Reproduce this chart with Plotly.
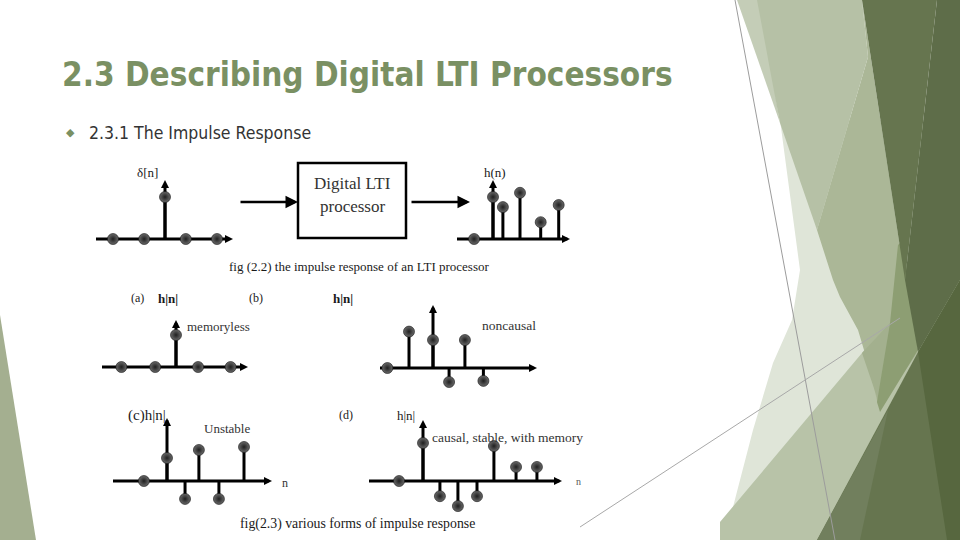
import plotly.graph_objects as go

W, H = 960, 540

# ---------------- data ----------------
# positions are in sample units along n, values in amplitude units
delta_n = [-2.0, -0.8, 0.0, 0.8, 2.0]
delta_v = [0, 0, 1, 0, 0]

hn_n = [-1.05, 0.0, 0.55, 1.5, 2.65, 3.65]
hn_v = [0, 1.0, 0.76, 1.1, 0.4, 0.81]

a_n = [-2.1, -0.8, 0.0, 0.85, 2.1]
a_v = [0, 0, 1, 0, 0]

b_n = [-1.9, -1.0, 0.0, 0.67, 1.33, 2.1]
b_v = [0, 1.3, 1.0, -0.5, 1.0, -0.46]

c_n = [-1.05, 0.0, 0.82, 1.45, 2.36, 3.5]
c_v = [0, 1.0, -0.78, 1.35, -0.78, 1.48]

d_n = [-1.33, 0.0, 0.94, 1.94, 3.0, 3.94, 5.17, 6.33]
d_v = [0, 1.0, -0.4, -0.66, -0.4, 0.92, 0.37, 0.37]

# panel geometry: origin px (ox, oy), px per unit (ux, uy),
# axis start/end px, vertical arrow top px
panels = [
    dict(n=delta_n, v=delta_v, ox=165, oy=239, ux=26, uy=42, x0=96, x1=233, top=180),
    dict(n=hn_n, v=hn_v, ox=493, oy=239, ux=18, uy=42, x0=457, x1=570, top=180),
    dict(n=a_n, v=a_v, ox=176, oy=367, ux=26, uy=32, x0=102, x1=248, top=320),
    dict(n=b_n, v=b_v, ox=433, oy=368, ux=24, uy=28, x0=380, x1=537, top=305),
    dict(n=c_n, v=c_v, ox=167, oy=481, ux=22, uy=23, x0=113, x1=272, top=418),
    dict(n=d_n, v=d_v, ox=423, oy=481, ux=18, uy=38, x0=369, x1=562, top=420),
]

fig = go.Figure()
layout = dict(
    width=W, height=H, margin=dict(l=0, r=0, t=0, b=0),
    paper_bgcolor="white", plot_bgcolor="rgba(0,0,0,0)",
    showlegend=False,
    xaxis=dict(domain=[0, 1], range=[0, W], visible=False, fixedrange=True),
    yaxis=dict(domain=[0, 1], range=[H, 0], visible=False, fixedrange=True),
)

# invisible trace to anchor the base (pixel) axes
fig.add_trace(go.Scatter(x=[0, W], y=[0, H], mode="markers",
                         marker=dict(opacity=0), hoverinfo="skip"))

dot = dict(size=11, color="#6a6a6a", gradient=dict(type="radial", color="#1f1f1f"),
           line=dict(width=0.6, color="#111111"))

for k, p in enumerate(panels, start=2):
    pad = 14
    left, right = p["x0"] - pad, p["x1"] + pad
    top, bottom = p["top"] - pad, p["oy"] + 40
    xr = [(left - p["ox"]) / p["ux"], (right - p["ox"]) / p["ux"]]
    yr = [(p["oy"] - bottom) / p["uy"], (p["oy"] - top) / p["uy"]]
    layout[f"xaxis{k}"] = dict(domain=[left / W, right / W], range=xr, visible=False,
                               anchor=f"y{k}", fixedrange=True)
    layout[f"yaxis{k}"] = dict(domain=[1 - bottom / H, 1 - top / H], range=yr, visible=False,
                               anchor=f"x{k}", fixedrange=True)
    xa, ya = f"x{k}", f"y{k}"
    xs = (p["x0"] - p["ox"]) / p["ux"]
    xe = (p["x1"] - p["ox"]) / p["ux"]
    yt = (p["oy"] - p["top"]) / p["uy"]
    # axes lines
    fig.add_trace(go.Scatter(x=[xs, xe - 0.15, None, 0, 0], y=[0, 0, None, 0, yt - 0.1],
                             mode="lines", line=dict(color="black", width=3),
                             xaxis=xa, yaxis=ya, hoverinfo="skip", cliponaxis=False))
    # arrowheads
    fig.add_trace(go.Scatter(x=[xe, 0], y=[0, yt], mode="markers",
                             marker=dict(symbol=["arrow-right", "arrow-up"], size=8, color="black"),
                             xaxis=xa, yaxis=ya, hoverinfo="skip", cliponaxis=False))
    # stems
    sx, sy = [], []
    for n, v in zip(p["n"], p["v"]):
        if v != 0:
            sx += [n, n, None]
            sy += [0, v, None]
    fig.add_trace(go.Scatter(x=sx, y=sy, mode="lines", line=dict(color="black", width=3),
                             xaxis=xa, yaxis=ya, hoverinfo="skip", cliponaxis=False))
    # dots
    fig.add_trace(go.Scatter(x=p["n"], y=p["v"], mode="markers", marker=dot,
                             xaxis=xa, yaxis=ya, hoverinfo="skip", cliponaxis=False))

# ---------------- background shapes (pixel coords) ----------------
shapes = []
def poly(path, color):
    shapes.append(dict(type="path", path=path, xref="x", yref="y", fillcolor=color,
                       line=dict(width=0), layer="below"))

poly("M0,315 L36,540 L0,540 Z", "#a4af90")
poly("M780,120 L800,270 L792,320 L773,363 L753,430 L733,507 L720,535 L720,540 "
     "L830,540 L960,300 L960,120 Z", "#dfe5d8")
poly("M737,0 L760,0 L780,123 Z", "#c4cdb7")
poly("M757,0 L862,0 L868,57 L817,230 L780,123 Z", "#b6c1a6")
poly("M720,522 L862,353 L905,300 L918,353 L817,540 L720,540 Z", "#b8c3a8")
poly("M862,0 L905,280 L918,352 L885,400 L878,405 L870,370 L858,330 L840,297 "
     "L833,280 L817,230 L868,57 Z", "#abb797")
poly("M862,353 L890,323 L878,400 Z", "#a3b08e")
poly("M898,245 L903,240 L918,350 L880,412 L877,402 L890,323 Z", "#8d9e73")
poly("M862,0 L937,0 L905,280 Z", "#66754f")
poly("M937,0 L960,0 L960,280 L918,352 L905,280 Z", "#5e6d49")
poly("M817,540 L918,352 L960,280 L960,540 Z", "#66754f")
poly("M817,540 L860,540 L888,410 Z", "#717f5d")
poly("M918,352 L960,280 L960,540 L947,540 Z", "#57673f")

shapes.append(dict(type="line", x0=735, y0=0, x1=835, y1=540, xref="x", yref="y",
                   line=dict(color="#9c9c9c", width=1), layer="below"))
shapes.append(dict(type="line", x0=580, y0=527, x1=900, y1=318, xref="x", yref="y",
                   line=dict(color="#a8a8a8", width=1), layer="below"))

# processor box
shapes.append(dict(type="rect", x0=298, y0=163, x1=406, y1=238, xref="x", yref="y",
                   line=dict(color="black", width=2.5), fillcolor="rgba(0,0,0,0)"))
layout["shapes"] = shapes

# ---------------- texts ----------------
ann = []
def txt(x, y, s, size=12, color="#1a1a1a", family="Liberation Serif, Times New Roman, serif",
        xanchor="left", bold=False):
    ann.append(dict(x=x, y=y, xref="x", yref="y", text=(f"<b>{s}</b>" if bold else s),
                    showarrow=False, xanchor=xanchor, yanchor="middle",
                    font=dict(size=size, color=color, family=family)))

title_font = "Liberation Sans Narrow, DejaVu Sans Condensed, Arial Narrow, sans-serif"
txt(60, 74, "2.3 Describing Digital LTI Processors", size=33, color="#7a9063",
    family=title_font, bold=True)
txt(64, 132, "◆", size=11, color="#7a9063", family="DejaVu Sans")
txt(87, 133, "2.3.1 The Impulse Response", size=17.5, color="#333333", family=title_font)

txt(147, 172, "δ[n]", size=13, xanchor="center")
txt(495, 172, "h(n)", size=13, xanchor="center")
txt(352, 183, "Digital LTI", size=17, xanchor="center", color="#333333")
txt(352, 206, "processor", size=17, xanchor="center", color="#333333")
txt(359, 266, "fig (2.2) the impulse response of an LTI processor", size=13, xanchor="center")

txt(129, 298, "(a)", size=12)
txt(156, 298, "h|n|", size=13, bold=True)
txt(247, 298, "(b)", size=12)
txt(331, 298, "h|n|", size=13, bold=True)
txt(185, 326, "memoryless", size=13, color="#333333")
txt(480, 325, "noncausal", size=13.5, color="#333333")
txt(126, 415, "(c)h|n|", size=15)
txt(202, 428, "Unstable", size=13, color="#333333")
txt(280, 483, "n", size=12, color="#333333")
txt(337, 415, "(d)", size=12)
txt(395, 415, "h|n|", size=13)
txt(430, 437, "causal, stable, with memory", size=13.5, color="#333333")
txt(574, 481, "n", size=10, color="#555555")
txt(357, 524, "fig(2.3) various forms of impulse response", size=13.8, xanchor="center")

# arrows into / out of the processor box
for xa0, xa1 in [(239, 298), (410, 470)]:
    ann.append(dict(x=xa1, y=202, ax=xa0, ay=202, xref="x", yref="y", axref="x", ayref="y",
                    text="", showarrow=True, arrowhead=2, arrowsize=1, arrowwidth=2.5,
                    arrowcolor="black"))
layout["annotations"] = ann

fig.update_layout(**layout)
fig.write_html("out.html", config={"displayModeBar": False},
               post_script="document.body.style.margin='0';document.body.style.overflow='hidden';")
